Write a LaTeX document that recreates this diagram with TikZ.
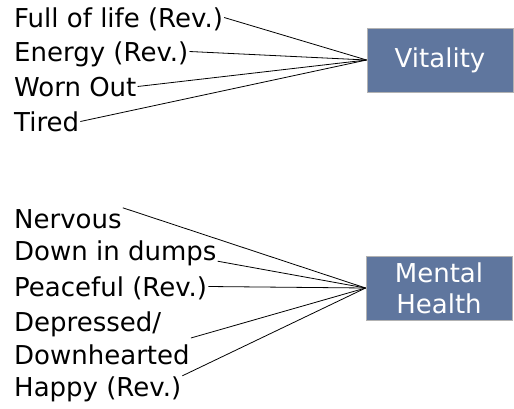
\documentclass[tikz,border=0pt]{standalone}
\usepackage{fontspec}
\setmainfont{DejaVu Sans}
\usepackage{tikz}
\usetikzlibrary{positioning}

\definecolor{boxblue}{RGB}{95,118,158}

\begin{document}
\begin{tikzpicture}[
  x=1pt, y=-1pt,
  font=\fontsize{26}{33}\selectfont,
  item/.style={anchor=base west, inner sep=1pt, text height=19pt, text depth=0pt},
  itemtwo/.style={anchor=west, inner sep=1pt, align=left},
  factor/.style={fill=boxblue, draw=black!30, line width=0.8pt, text=white,
                 minimum width=146pt, minimum height=64pt, align=center, inner sep=0pt},
  link/.style={line width=0.8pt, draw=black},
]
\useasboundingbox (0,0) rectangle (514,408);
% ---------------- Vitality ----------------
\node[factor] (vit) at (440,60) {Vitality};
\node[item] (full)  at (13,27)  {Full of life (Rev.)};
\node[item] (enrg)  at (13,61)  {Energy (Rev.)};
\node[item] (worn)  at (13,96)  {Worn Out};
\node[item] (tired) at (13,131) {Tired};
\draw[link] (full.east)  -- (vit.west);
\draw[link] (enrg.east)  -- (vit.west);
\draw[link] (worn.east)  -- (vit.west);
\draw[link] (tired.east) -- (vit.west);
% ---------------- Mental Health ----------------
\node[factor] (mh) at (439,288) {Mental\\[-2pt]Health};
\node[item] (nerv)  at (13,228) {Nervous};
\node[item] (down)  at (13,260) {Down in dumps};
\node[item] (peace) at (13,296) {Peaceful (Rev.)};
\node[itemtwo] (depr) at (13,338) {Depressed/\\Downhearted};
\node[item] (happy) at (13,396) {Happy (Rev.)};
\draw[link] (nerv.north east)  -- (mh.west);
\draw[link] (down.south east)  -- (mh.west);
\draw[link] (peace.east)       -- (mh.west);
\draw[link] (depr.east)        -- (mh.west);
\draw[link] (happy.north east) -- (mh.west);
\end{tikzpicture}
\end{document}
